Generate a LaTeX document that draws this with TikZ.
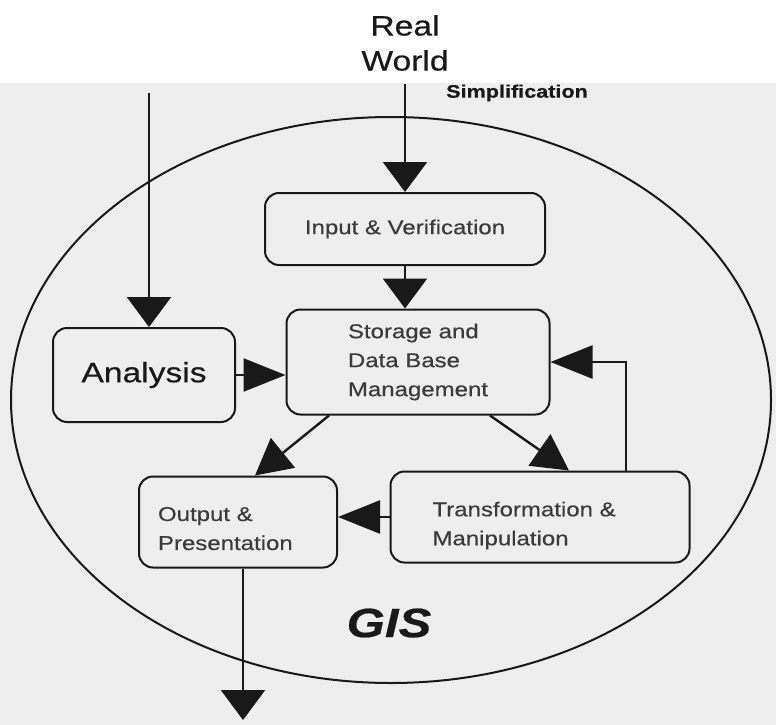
\documentclass[tikz,border=0pt]{standalone}
\usepackage{fontspec}
\setmainfont{Liberation Sans}[FakeStretch=1.2,FakeBold=0.5]
\usetikzlibrary{arrows.meta}
\definecolor{scan}{RGB}{238,238,238}
\definecolor{ink}{RGB}{25,25,25}
\tikzset{
  box/.style={draw=ink, line width=2pt, rounded corners=14pt, inner sep=0pt,
    font=\fontsize{20}{29}\selectfont, text=ink!85},
  tipv/.style={-{Triangle[length=30pt,width=44pt]}},
  tiph/.style={-{Triangle[length=42pt,width=33pt]}},
  tipd/.style={-{Triangle[length=36pt,width=38pt]}},
}
\begin{document}
\begin{tikzpicture}[x=1pt,y=-1pt,ink,line width=2.4pt]
      \fill[white] (0,0) rectangle (776,83);
      \fill[scan] (0,83) rectangle (776,725);
      \useasboundingbox (0,0) rectangle (776,725);
      \draw[line width=2pt] (391,400) ellipse [x radius=380, y radius=283];
      \node[font=\fontsize{28}{35}\selectfont, align=center] (real) at (405,43) {Real\\World};
      \node[font=\bfseries\fontsize{18}{20}\selectfont] (simp) at (517,93) {Simplification};
      \node[box, minimum width=280pt, minimum height=72pt] (input) at (405,229) {Input \& Verification};
      \node[box, minimum width=263pt, minimum height=105pt, align=left] (storage) at (418,362) {Storage and\\Data Base\\Management};
      \node[box, minimum width=182pt, minimum height=94pt, font=\fontsize{28}{32}\selectfont, text=ink] (analysis) at (144,375) {Analysis};
      \node[box, minimum width=198pt, minimum height=91pt, text width=160pt, text depth=16pt, align=left] (output) at (238,522) {Output \&\\Presentation};
      \node[box, minimum width=299pt, minimum height=91pt, text width=215pt, text depth=16pt, align=left] (transform) at (540,517) {Transformation \&\\Manipulation};
      \node[font=\bfseries\itshape\fontsize{41}{45}\selectfont] (gis) at (389,623) {GIS};
      \coordinate (anatop) at (149,93);
      \coordinate (outend) at (243,720);
      \begin{scope}
        \draw[tipv] ([yshift=-9pt]real.south) -- (input.north);
        \draw[tipv] (anatop) -- (anatop |- analysis.north);
        \draw[tipv] (input.south) -- (input.south |- storage.north);
        \draw[tiph] (analysis.east) -- (analysis.east -| storage.west);
        \draw[tiph] ([xshift=86pt]transform.north) |- (storage.east);
        \draw[tipd] ([xshift=-89pt]storage.south) -- ([xshift=17pt]output.north);
        \draw[tipd] ([xshift=72pt]storage.south) -- ([xshift=29pt]transform.north);
        \draw[tiph] (transform.west) -- (transform.west -| output.east);
        \draw[tipv] ([xshift=5pt]output.south) -- (outend);
      \end{scope}
    \end{tikzpicture}
\end{document}
